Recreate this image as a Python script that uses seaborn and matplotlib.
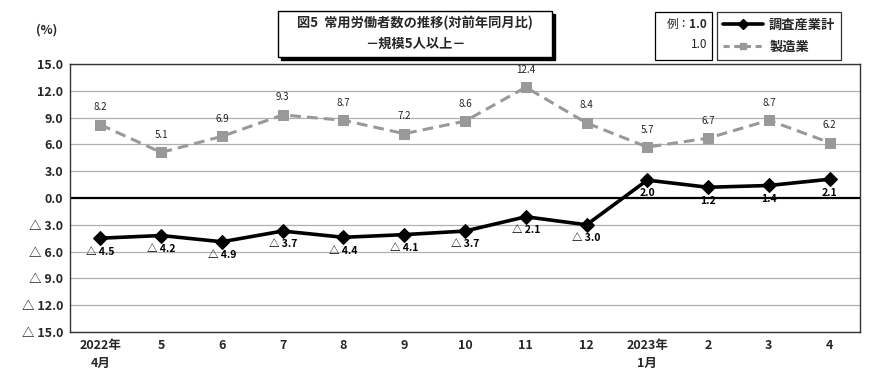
import numpy as np
import pandas as pd
import matplotlib
matplotlib.use("Agg")
import matplotlib.pyplot as plt
from matplotlib.patches import Rectangle
from matplotlib.lines import Line2D
import seaborn as sns

# %% Data
months = ["2022年\n4月", "5", "6", "7", "8", "9", "10", "11", "12",
          "2023年\n1月", "2", "3", "4"]
total_all = [-4.5, -4.2, -4.9, -3.7, -4.4, -4.1, -3.7, -2.1, -3.0, 2.0, 1.2, 1.4, 2.1]
manufacturing = [8.2, 5.1, 6.9, 9.3, 8.7, 7.2, 8.6, 12.4, 8.4, 5.7, 6.7, 8.7, 6.2]
y_ticks = [15, 12, 9, 6, 3, 0, -3, -6, -9, -12, -15]

# %% Style
sns.set_style("white")
plt.rcParams['font.family'] = ['Noto Sans CJK JP', 'DejaVu Sans']

df = pd.DataFrame({"pos": np.arange(len(months)),
                   "total": total_all,
                   "manu": manufacturing})

fig = plt.figure(figsize=(8.9, 3.89), dpi=100)
ax = fig.add_axes([70 / 890, 1 - 332 / 389, 790 / 890, 268 / 389])

gray_col = '#999999'

# gridlines
for y in y_ticks:
    if y == 0:
        ax.axhline(0, color='black', linewidth=1.6, zorder=1)
    else:
        ax.axhline(y, color='#b0b0b0', linewidth=0.9, zorder=0)

sns.lineplot(x="pos", y="manu", data=df, ax=ax, color=gray_col, linewidth=2.2,
             linestyle=(0, (3.5, 2)), marker='s', markersize=7, markeredgecolor=gray_col,
             zorder=3)
sns.lineplot(x="pos", y="total", data=df, ax=ax, color='black', linewidth=2.6,
             marker='D', markersize=7, markeredgecolor='black', zorder=4)


def fmt(v):
    return f"{v:.1f}" if v >= 0 else f"△ {abs(v):.1f}"


# data labels
for i, v in enumerate(manufacturing):
    ax.annotate(fmt(v), (i, v), xytext=(0, 9), textcoords='offset points',
                ha='center', va='bottom', fontsize=7, color='#222222')
for i, v in enumerate(total_all):
    ax.annotate(fmt(v), (i, v), xytext=(0, -6), textcoords='offset points',
                ha='center', va='top', fontsize=7.5, fontweight='bold', color='black')

ax.set_xlim(-0.5, len(months) - 0.5)
ax.set_ylim(-15, 15)
ax.set_yticks(y_ticks)
ax.set_yticklabels([fmt(y) for y in y_ticks], fontsize=9, fontweight='bold')
ax.set_xticks(np.arange(len(months)))
ax.set_xticklabels(months, fontsize=9, fontweight='bold', va='top', linespacing=1.5)
ax.tick_params(axis='both', length=0, pad=5)
ax.set_xlabel("")
ax.set_ylabel("")
for s in ax.spines.values():
    s.set_color('#333333')
    s.set_linewidth(1.0)

# unit
fig.text(47 / 890, 1 - 30 / 389, "(%)", ha='center', va='center', fontsize=9, fontweight='bold')

# title box with shadow
tx0, ty0, tx1, ty1 = 278, 11, 552, 57
fig.patches.append(Rectangle(((tx0 + 3) / 890, 1 - (ty1 + 3) / 389), (tx1 - tx0) / 890,
                             (ty1 - ty0) / 389, transform=fig.transFigure,
                             facecolor='black', edgecolor='black', zorder=1))
fig.patches.append(Rectangle((tx0 / 890, 1 - ty1 / 389), (tx1 - tx0) / 890,
                             (ty1 - ty0) / 389, transform=fig.transFigure,
                             facecolor='white', edgecolor='black', linewidth=1, zorder=2))
fig.text((tx0 + tx1) / 2 / 890, 1 - 23 / 389, "図5  常用労働者数の推移(対前年同月比)",
         ha='center', va='center', fontsize=9.5, fontweight='bold', zorder=3)
fig.text((tx0 + tx1) / 2 / 890, 1 - 44 / 389, "－規模5人以上－",
         ha='center', va='center', fontsize=9.5, fontweight='bold', zorder=3)

# example box
ex0, ey0, ex1, ey1 = 655, 12, 712, 60
fig.patches.append(Rectangle((ex0 / 890, 1 - ey1 / 389), (ex1 - ex0) / 890, (ey1 - ey0) / 389,
                             transform=fig.transFigure, facecolor='white',
                             edgecolor='black', linewidth=0.9))
fig.text(690 / 890, 1 - 24 / 389, "例：", ha='right', va='center', fontsize=8.5)
fig.text(707 / 890, 1 - 24 / 389, "1.0", ha='right', va='center', fontsize=8.5,
         fontweight='bold')
fig.text(707 / 890, 1 - 45 / 389, "1.0", ha='right', va='center', fontsize=8.5)

# legend box
handles = [Line2D([], [], color='black', linewidth=2.6, marker='D', markersize=5),
           Line2D([], [], color=gray_col, linewidth=2.2, linestyle=(0, (2, 1.5)),
                  marker='s', markersize=5)]
leg = fig.legend(handles, ["調査産業計", "製造業"], loc='upper left',
                 bbox_to_anchor=(717 / 890, 1 - 12 / 389), frameon=True, fancybox=False,
                 edgecolor='black', handlelength=3.0, borderpad=0.45, labelspacing=0.6,
                 borderaxespad=0, handletextpad=0.5,
                 prop={'size': 9.5, 'weight': 'bold', 'family': ['Noto Sans CJK JP', 'DejaVu Sans']})
leg.get_frame().set_linewidth(0.9)

plt.savefig("out.png", dpi=100)
